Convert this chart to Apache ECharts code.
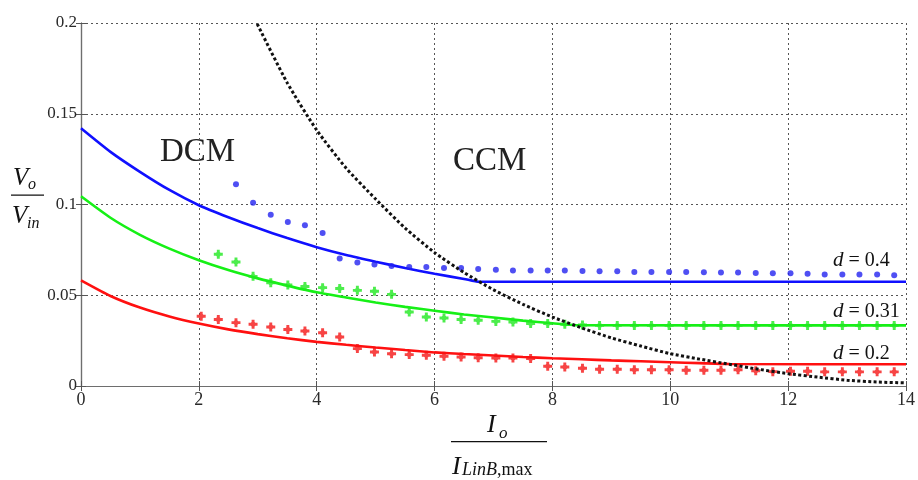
<!DOCTYPE html>
<html>
<head>
<meta charset="utf-8">
<script src="https://cdn.jsdelivr.net/npm/echarts@6/dist/echarts.min.js"></script>
<style>
  html, body { margin: 0; padding: 0; background: #fff; }
  #chart { width: 918px; height: 480px; }
</style>
</head>
<body>
<div id="chart"></div>
<script>
// Axis ticks
const xTicks = [0, 2, 4, 6, 8, 10, 12, 14];
const yTicks = [0, 0.05, 0.1, 0.15, 0.2];

// Analytic output curves (solid) for each duty ratio
const blueCurveX = [0, 0.5, 1, 1.5, 2, 2.5, 3, 3.5, 4, 4.5, 5, 5.5, 6, 6.5, 6.75, 14];
const blueCurveY = [0.142, 0.129, 0.118, 0.108, 0.0996, 0.093, 0.087, 0.0815, 0.0765, 0.0722, 0.0685, 0.065, 0.0618, 0.059, 0.0574, 0.0574];

const greenCurveX = [0, 0.5, 1, 1.5, 2, 2.5, 3, 3.5, 4, 4.5, 5, 5.5, 6, 6.5, 7, 7.5, 8, 8.4, 14];
const greenCurveY = [0.1045, 0.0927, 0.0833, 0.0757, 0.0693, 0.0639, 0.0593, 0.0553, 0.0516, 0.0488, 0.046, 0.0436, 0.0415, 0.0394, 0.0377, 0.036, 0.0346, 0.0335, 0.0334];

const redCurveX = [0, 0.5, 1, 1.5, 2, 2.5, 3, 3.5, 4, 4.5, 5, 5.5, 6, 6.5, 7, 7.5, 8, 8.5, 9, 9.5, 10, 10.5, 11, 14];
const redCurveY = [0.0582, 0.0496, 0.0432, 0.0383, 0.0344, 0.0312, 0.0286, 0.0263, 0.0243, 0.0227, 0.0212, 0.0198, 0.0185, 0.0176, 0.0168, 0.0160, 0.0153, 0.0147, 0.0141, 0.0136, 0.0131, 0.0126, 0.0121, 0.0120];

// DCM/CCM boundary (dotted)
const boundaryX = [2.99, 3.5, 4, 4.5, 5, 5.5, 6, 6.5, 7, 7.5, 8, 8.5, 9, 9.5, 10, 10.5, 11, 11.5, 12, 12.5, 13, 13.5, 14];
const boundaryY = [0.1995, 0.167, 0.141, 0.120, 0.103, 0.087, 0.0735, 0.0625, 0.053, 0.045, 0.038, 0.032, 0.0265, 0.022, 0.0178, 0.0148, 0.0120, 0.0092, 0.0068, 0.0049, 0.0032, 0.0022, 0.0017];

// Measured points: shared load steps
const dotX = [2.04, 2.33, 2.63, 2.92, 3.22, 3.51, 3.80, 4.10, 4.39, 4.69, 4.98, 5.27, 5.57, 5.86, 6.16, 6.45, 6.74, 7.04, 7.33, 7.63, 7.92, 8.21, 8.51, 8.80, 9.10, 9.39, 9.68, 9.98, 10.27, 10.57, 10.86, 11.15, 11.45, 11.74, 12.04, 12.33, 12.62, 12.92, 13.21, 13.51, 13.80];

// d = 0.2 measured (from 2.04)
const redDotY = [0.0384, 0.0366, 0.0349, 0.0340, 0.0325, 0.0311, 0.0303, 0.0293, 0.0270, 0.0206, 0.0187, 0.0178, 0.0173, 0.0169, 0.0164, 0.0160, 0.0156, 0.0154, 0.0154, 0.0151, 0.0109, 0.0105, 0.0098,
  0.0092, 0.0092, 0.0090, 0.0090, 0.0090, 0.0087, 0.0087, 0.0087, 0.0090, 0.0084, 0.0079, 0.0081, 0.0081, 0.0078, 0.0078, 0.0078, 0.0078, 0.0078];
// d = 0.31 measured (from 2.33)
const greenDotY = [0.0726, 0.0683, 0.0604, 0.0569, 0.0557, 0.0548, 0.0542, 0.0537, 0.0527, 0.0522, 0.0505, 0.0408, 0.0380, 0.0375, 0.0366, 0.0362, 0.0356, 0.0353, 0.0344, 0.0344, 0.0340, 0.0336,
  0.0334, 0.0334, 0.0334, 0.0334, 0.0334, 0.0334, 0.0334, 0.0334, 0.0334, 0.0334, 0.0334, 0.0334, 0.0334, 0.0334, 0.0334, 0.0334, 0.0334, 0.0334];
// d = 0.4 measured (from 2.63)
const blueDotY = [0.1111, 0.1010, 0.0944, 0.0904, 0.0885, 0.0843, 0.0702, 0.0680, 0.0669, 0.0661, 0.0656, 0.0656, 0.0650, 0.0650, 0.0645, 0.0641, 0.0637, 0.0637, 0.0637, 0.0637, 0.0634,
  0.0632, 0.0632, 0.0628, 0.0628, 0.0628, 0.0628, 0.0627, 0.0625, 0.0625, 0.0623, 0.0621, 0.0621, 0.0619, 0.0615, 0.0615, 0.0615, 0.0614, 0.0610];

const dutyLabels = ['0.4', '0.31', '0.2'];

function pairs(xs, ys) { return xs.map((x, i) => [x, ys[i]]); }
function tail(xs, ys) { const off = xs.length - ys.length; return ys.map((y, i) => [xs[i + off], y]); }

const SERIF = '"Liberation Serif", "Times New Roman", serif';
// chunky cross marker: a plus merged with a diamond
const CROSS = 'path://M2.7,0H5.3V2.7H8V5.3H5.3V8H2.7V5.3H0V2.7H2.7Z M4,0.7L7.3,4L4,7.3L0.7,4Z';
const gridLine = { show: true, lineStyle: { color: '#555', width: 1, type: [2, 3] } };
const axisLine = { show: true, lineStyle: { color: '#6e6e6e', width: 1.2 } };
const tick = { show: true, inside: true, length: 5, lineStyle: { color: '#555' } };

const chart = echarts.init(document.getElementById('chart'), null, { renderer: 'canvas' });

function curve(name, xs, ys, color) {
  return {
    name, type: 'line', data: pairs(xs, ys), symbol: 'none', smooth: 0.2,
    lineStyle: { color, width: 2.6 }, z: 2, silent: true
  };
}
function dots(name, ys, color, symbol, size) {
  return {
    name, type: 'scatter', data: tail(dotX, ys), symbol, symbolSize: size,
    itemStyle: { color }, z: 3, silent: true
  };
}

chart.setOption({
  animation: false,
  backgroundColor: '#fff',
  grid: { left: 81, right: 7, top: 23, bottom: 94 },
  xAxis: [{
    type: 'value', min: xTicks[0], max: xTicks[xTicks.length - 1], interval: 2,
    axisLine, axisTick: tick,
    axisLabel: { color: '#2a2a2a', fontFamily: SERIF, fontSize: 18, margin: 5 },
    splitLine: gridLine
  }, {
    type: 'value', position: 'top', min: xTicks[0], max: xTicks[xTicks.length - 1], interval: 2,
    axisLine, axisTick: tick, axisLabel: { show: false }, splitLine: { show: false }
  }],
  yAxis: [{
    type: 'value', min: yTicks[0], max: yTicks[yTicks.length - 1], interval: 0.05,
    axisLine, axisTick: tick,
    axisLabel: { color: '#2a2a2a', fontFamily: SERIF, fontSize: 17, margin: 4, formatter: v => String(+v.toFixed(2)) },
    splitLine: gridLine
  }, {
    type: 'value', position: 'right', min: yTicks[0], max: yTicks[yTicks.length - 1], interval: 0.05,
    axisLine, axisTick: tick, axisLabel: { show: false }, splitLine: { show: false }
  }],
  series: [
    curve('d0.4', blueCurveX, blueCurveY, '#1010ff'),
    curve('d0.31', greenCurveX, greenCurveY, '#16f016'),
    curve('d0.2', redCurveX, redCurveY, '#ff1010'),
    dots('m0.4', blueDotY, '#2323f0', 'circle', 6),
    dots('m0.31', greenDotY, '#1fe81f', CROSS, 9),
    dots('m0.2', redDotY, '#f51515', CROSS, 9),
    {
      name: 'boundary', type: 'line', data: pairs(boundaryX, boundaryY), symbol: 'none',
      smooth: 0.2,
      lineStyle: { color: '#111', width: 3, type: [3, 2.4] }, z: 4, silent: true
    }
  ],
  graphic: [
    // y-axis title: Vo / Vin
    { type: 'text', left: 13, top: 166, style: { text: 'V', font: 'italic 25px ' + SERIF, fill: '#111' } },
    { type: 'text', left: 28, top: 177, style: { text: 'o', font: 'italic 16px ' + SERIF, fill: '#111' } },
    { type: 'rect', shape: { x: 11, y: 194.5, width: 33, height: 1.3 }, style: { fill: '#111' } },
    { type: 'text', left: 12, top: 204, style: { text: 'V', font: 'italic 25px ' + SERIF, fill: '#111' } },
    { type: 'text', left: 27, top: 216, style: { text: 'in', font: 'italic 16px ' + SERIF, fill: '#111' } },
    // x-axis title: Io / ILinB,max
    { type: 'text', left: 487, top: 412, style: { text: 'I', font: 'italic 26px ' + SERIF, fill: '#111' } },
    { type: 'text', left: 499, top: 425, style: { text: 'o', font: 'italic 17px ' + SERIF, fill: '#111' } },
    { type: 'rect', shape: { x: 451, y: 441, width: 96, height: 1.3 }, style: { fill: '#111' } },
    { type: 'text', left: 452, top: 454, style: { text: 'I', font: 'italic 26px ' + SERIF, fill: '#111' } },
    { type: 'text', left: 462, top: 461, style: {
      text: '{i|LinB}{r|,max}', rich: {
        i: { font: 'italic 18px ' + SERIF, fill: '#111' },
        r: { font: '18px ' + SERIF, fill: '#111' }
      } } },
    // region labels
    { type: 'text', left: 160, top: 136, style: { text: 'DCM', font: '33px ' + SERIF, fill: '#222' } },
    { type: 'text', left: 453, top: 145, style: { text: 'CCM', font: '33px ' + SERIF, fill: '#222' } },
    // duty-ratio labels
    ...dutyLabels.map((d, i) => ({
      type: 'text', left: 833, top: [250, 301, 343][i], z: 10,
      style: {
        text: '{i|d}{r| = ' + d + '}', rich: {
          i: { font: 'italic 21px ' + SERIF, fill: '#111' },
          r: { font: '20px ' + SERIF, fill: '#111' }
        }
      }
    }))
  ]
});
</script>
</body>
</html>
